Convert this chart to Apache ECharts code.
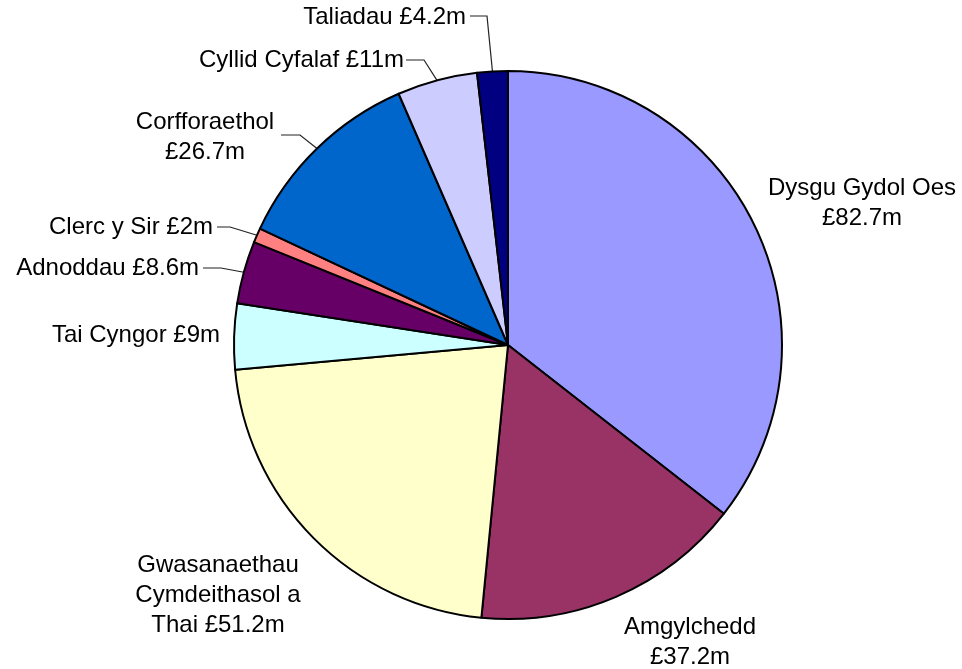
<!DOCTYPE html>
<html>
<head>
<meta charset="utf-8">
<script src="https://cdn.jsdelivr.net/npm/echarts@6/dist/echarts.min.js"></script>
<style>html,body{margin:0;padding:0;background:#fff}#c{width:962px;height:669px}</style>
</head>
<body>
<div id="c"></div>
<script>
const categories = ['Dysgu Gydol Oes', 'Amgylchedd', 'Gwasanaethau Cymdeithasol a Thai', 'Tai Cyngor', 'Adnoddau', 'Clerc y Sir', 'Corfforaethol', 'Cyllid Cyfalaf', 'Taliadau'];
const values = [82.7, 37.2, 51.2, 9, 8.6, 2, 26.7, 11, 4.2];
const labelTexts = ['Dysgu Gydol Oes\n£82.7m', 'Amgylchedd\n£37.2m', 'Gwasanaethau\nCymdeithasol a\nThai £51.2m', 'Tai Cyngor £9m', 'Adnoddau £8.6m', 'Clerc y Sir £2m', 'Corfforaethol\n£26.7m', 'Cyllid Cyfalaf £11m', 'Taliadau £4.2m'];
const colors = ['#9999FF', '#993366', '#FFFFCC', '#CCFFFF', '#660066', '#FF8080', '#0066CC', '#CCCCFF', '#000080'];

// label placement (style): x, y, align, leader line (bend x, end x, y) or null
const labelStyle = [
  {x: 862, y: 203, align: 'center', line: null},
  {x: 690, y: 642, align: 'center', line: null},
  {x: 218, y: 595, align: 'center', line: null},
  {x: 220, y: 335, align: 'right', line: null},
  {x: 199, y: 268, align: 'right', line: [221, 203, 268]},
  {x: 213, y: 227, align: 'right', line: [230, 217, 227]},
  {x: 205, y: 137, align: 'center', line: [300, 281, 135]},
  {x: 404, y: 60, align: 'right', line: [424, 406, 60]},
  {x: 466, y: 17, align: 'right', line: [487, 470, 16]}
];

const chart = echarts.init(document.getElementById('c'));
chart.setOption({
  animation: false,
  backgroundColor: '#ffffff',
  series: [{
    type: 'pie',
    center: [508, 345],
    radius: 274,
    startAngle: 90,
    clockwise: true,
    avoidLabelOverlap: false,
    data: categories.map((c, i) => ({
      name: c,
      value: values[i],
      itemStyle: {color: colors[i]},
      label: {formatter: labelTexts[i]},
      labelLine: {show: !!labelStyle[i].line}
    })),
    itemStyle: {borderColor: '#000', borderWidth: 2},
    label: {
      show: true,
      position: 'outside',
      fontFamily: 'Liberation Sans, Arial, sans-serif',
      fontSize: 24,
      lineHeight: 30,
      color: '#000'
    },
    labelLine: {lineStyle: {color: '#222', width: 1.2}, length: 10, length2: 10},
    emphasis: {disabled: true},
    labelLayout: function (p) {
      const s = labelStyle[p.dataIndex];
      const out = {x: s.x, y: s.y, align: s.align, verticalAlign: 'middle'};
      if (s.line && p.labelLinePoints) {
        const start = p.labelLinePoints[0];
        out.labelLinePoints = [start, [s.line[0], s.line[2]], [s.line[1], s.line[2]]];
      }
      return out;
    }
  }]
});
</script>
</body>
</html>
